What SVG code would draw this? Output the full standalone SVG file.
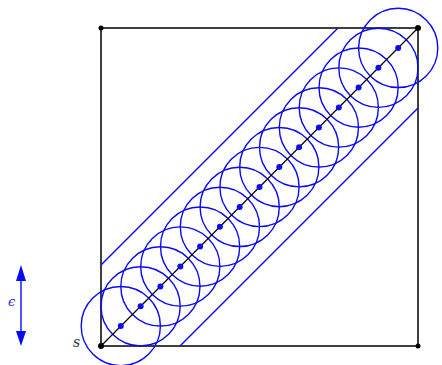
<svg xmlns="http://www.w3.org/2000/svg" width="442" height="365" viewBox="0 0 442 365">
<style>
.c{fill:none;stroke:#0a0af5;stroke-width:1.4}
.bl{stroke:#0a0af5;stroke-width:1.4;fill:none}
.d{fill:#0a0af5}
.k{fill:#000}
.lbl{font-family:"DejaVu Serif",serif;font-style:italic}
</style>
<g id="square"><rect x="101" y="28" width="317" height="318" fill="none" stroke="#000" stroke-width="1.5"/></g>
<g id="bands">
<line class="bl" x1="101" y1="265" x2="338" y2="28"/>
<line class="bl" x1="180" y1="346" x2="418" y2="108"/>
</g>
<g id="circles">
<circle class="c" cx="120.8" cy="326.1" r="39.6"/>
<circle class="c" cx="140.6" cy="306.3" r="39.6"/>
<circle class="c" cx="160.4" cy="286.4" r="39.6"/>
<circle class="c" cx="180.3" cy="266.5" r="39.6"/>
<circle class="c" cx="200.1" cy="246.6" r="39.6"/>
<circle class="c" cx="219.9" cy="226.8" r="39.6"/>
<circle class="c" cx="239.7" cy="206.9" r="39.6"/>
<circle class="c" cx="259.5" cy="187" r="39.6"/>
<circle class="c" cx="279.3" cy="167.1" r="39.6"/>
<circle class="c" cx="299.1" cy="147.3" r="39.6"/>
<circle class="c" cx="318.9" cy="127.4" r="39.6"/>
<circle class="c" cx="338.8" cy="107.5" r="39.6"/>
<circle class="c" cx="358.6" cy="87.6" r="39.6"/>
<circle class="c" cx="378.4" cy="67.8" r="39.6"/>
<circle class="c" cx="398.2" cy="47.9" r="39.6"/>
</g>
<g id="connectors"><line x1="101" y1="346" x2="418" y2="28" stroke="#000" stroke-width="1.2"/></g>
<g id="points">
<circle class="d" cx="120.8" cy="326.1" r="3"/>
<circle class="d" cx="140.6" cy="306.3" r="3"/>
<circle class="d" cx="160.4" cy="286.4" r="3"/>
<circle class="d" cx="180.3" cy="266.5" r="3"/>
<circle class="d" cx="200.1" cy="246.6" r="3"/>
<circle class="d" cx="219.9" cy="226.8" r="3"/>
<circle class="d" cx="239.7" cy="206.9" r="3"/>
<circle class="d" cx="259.5" cy="187" r="3"/>
<circle class="d" cx="279.3" cy="167.1" r="3"/>
<circle class="d" cx="299.1" cy="147.3" r="3"/>
<circle class="d" cx="318.9" cy="127.4" r="3"/>
<circle class="d" cx="338.8" cy="107.5" r="3"/>
<circle class="d" cx="358.6" cy="87.6" r="3"/>
<circle class="d" cx="378.4" cy="67.8" r="3"/>
<circle class="d" cx="398.2" cy="47.9" r="3"/>
<circle class="k" cx="101" cy="346" r="3"/>
<circle class="k" cx="418" cy="28" r="3"/>
<circle class="k" cx="101" cy="28" r="2.5"/>
<circle class="k" cx="418" cy="346" r="2.5"/>
</g>
<g id="epsilon">
<line x1="21" y1="281" x2="21" y2="331" stroke="#0a0af5" stroke-width="1.4"/>
<path d="M21,265 L16,281 L26,281 z" fill="#0a0af5"/>
<path d="M21,346 L16,331 L26,331 z" fill="#0a0af5"/>
<text class="lbl" x="8" y="306" font-size="13" fill="#3030f0">ϵ</text>
</g>
<text class="lbl" x="73" y="347" font-size="14" fill="#333">s</text>
</svg>
